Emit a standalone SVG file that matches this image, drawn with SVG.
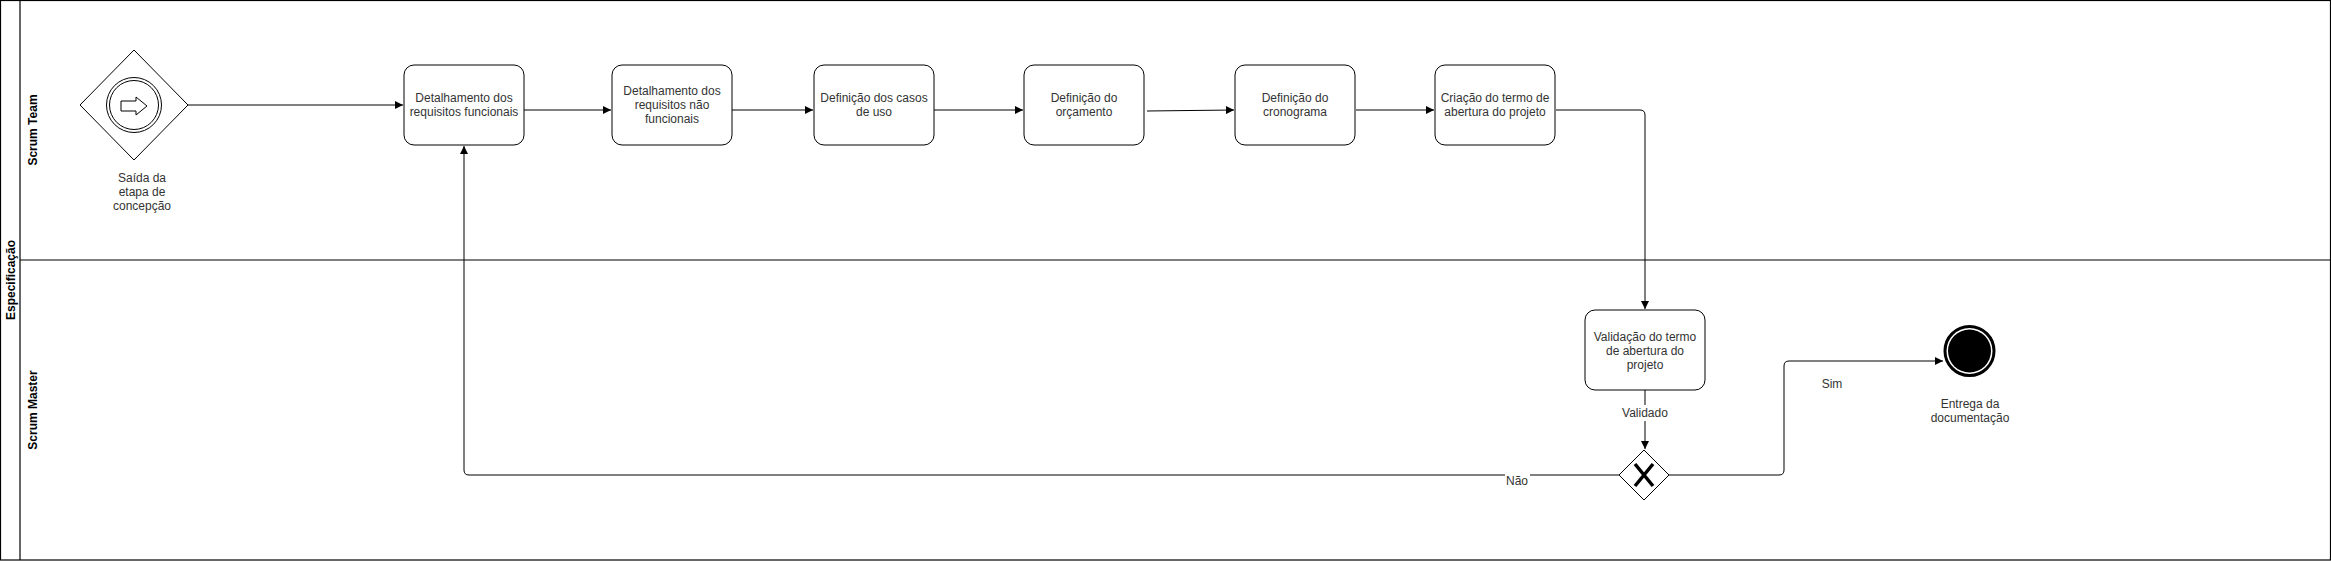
<svg xmlns="http://www.w3.org/2000/svg" width="2331" height="561" viewBox="0 0 2331 561">
<style>
text{font-family:"Liberation Sans",Arial,sans-serif;font-size:12px;fill:#333;}
.title{font-weight:bold;fill:#000;}
.task{fill:#fff;stroke:#000;stroke-width:1;}
.edge{fill:none;stroke:#000;stroke-width:1;}
.lane{fill:none;stroke:#000;stroke-width:1.2;}
</style>
<defs>
<marker id="arr" viewBox="0 0 10 10" refX="10" refY="5" markerWidth="9" markerHeight="8" markerUnits="userSpaceOnUse" orient="auto">
<path d="M0,0 L10,5 L0,10 z" fill="#000"/>
</marker>
</defs>
<rect width="2331" height="561" fill="#fff"/>
<g id="pool">
<rect class="lane" x="0.5" y="0.5" width="2330" height="559.5"/>
<line class="lane" x1="20" y1="0.5" x2="20" y2="560"/>
<line class="lane" x1="20" y1="260" x2="2331" y2="260"/>
<text class="title" transform="translate(15,280) rotate(-90)" text-anchor="middle">Especificação</text>
<text class="title" transform="translate(37,130) rotate(-90)" text-anchor="middle">Scrum Team</text>
<text class="title" transform="translate(37,410) rotate(-90)" text-anchor="middle">Scrum Master</text>
</g>
<g id="edges">
<path class="edge" d="M188,105 H403" marker-end="url(#arr)"/>
<path class="edge" d="M524,110 H611" marker-end="url(#arr)"/>
<path class="edge" d="M732,110 H813" marker-end="url(#arr)"/>
<path class="edge" d="M934,110 H1023" marker-end="url(#arr)"/>
<path class="edge" d="M1147,111 L1234,110" marker-end="url(#arr)"/>
<path class="edge" d="M1356,110 H1434" marker-end="url(#arr)"/>
<path class="edge" d="M1556,110 H1640 Q1645,110 1645,115 V309" marker-end="url(#arr)"/>
<path class="edge" d="M1645,390 V449" marker-end="url(#arr)"/>
<path class="edge" d="M1619,475 H469 Q464,475 464,470 V146" marker-end="url(#arr)"/>
<path class="edge" d="M1669,475 H1779 Q1784,475 1784,470 V366 Q1784,361 1789,361 H1943" marker-end="url(#arr)"/>
<rect x="1622" y="405" width="46" height="16" fill="#fff"/>
<text x="1645" y="417" text-anchor="middle">Validado</text>
<rect x="1505" y="472" width="25" height="16" fill="#fff"/>
<text x="1517" y="485" text-anchor="middle">Não</text>
<text x="1832" y="388" text-anchor="middle">Sim</text>
</g>
<g id="start">
<polygon points="80,105 134,50 188,105 134,160" fill="#fff" stroke="#000"/>
<circle cx="134" cy="105" r="27.5" fill="#fff" stroke="#000"/>
<circle cx="134" cy="105" r="24.5" fill="none" stroke="#000"/>
<path d="M121,101 H136 V97 L147,106 L136,115 V111 H121 Z" fill="#fff" stroke="#000"/>
<text x="142" y="182" text-anchor="middle">Saída da</text>
<text x="142" y="196" text-anchor="middle">etapa de</text>
<text x="142" y="210" text-anchor="middle">concepção</text>
</g>
<g id="task1">
<rect class="task" x="404" y="65" width="120" height="80" rx="10"/>
<text x="464" y="102" text-anchor="middle">Detalhamento dos</text>
<text x="464" y="116" text-anchor="middle">requisitos funcionais</text>
</g>
<g id="task2">
<rect class="task" x="612" y="65" width="120" height="80" rx="10"/>
<text x="672" y="95" text-anchor="middle">Detalhamento dos</text>
<text x="672" y="109" text-anchor="middle">requisitos não</text>
<text x="672" y="123" text-anchor="middle">funcionais</text>
</g>
<g id="task3">
<rect class="task" x="814" y="65" width="120" height="80" rx="10"/>
<text x="874" y="102" text-anchor="middle">Definição dos casos</text>
<text x="874" y="116" text-anchor="middle">de uso</text>
</g>
<g id="task4">
<rect class="task" x="1024" y="65" width="120" height="80" rx="10"/>
<text x="1084" y="102" text-anchor="middle">Definição do</text>
<text x="1084" y="116" text-anchor="middle">orçamento</text>
</g>
<g id="task5">
<rect class="task" x="1235" y="65" width="120" height="80" rx="10"/>
<text x="1295" y="102" text-anchor="middle">Definição do</text>
<text x="1295" y="116" text-anchor="middle">cronograma</text>
</g>
<g id="task6">
<rect class="task" x="1435" y="65" width="120" height="80" rx="10"/>
<text x="1495" y="102" text-anchor="middle">Criação do termo de</text>
<text x="1495" y="116" text-anchor="middle">abertura do projeto</text>
</g>
<g id="task7">
<rect class="task" x="1585" y="310" width="120" height="80" rx="10"/>
<text x="1645" y="341" text-anchor="middle">Validação do termo</text>
<text x="1645" y="355" text-anchor="middle">de abertura do</text>
<text x="1645" y="369" text-anchor="middle">projeto</text>
</g>
<g id="gateway">
<polygon points="1619,475 1644,450 1669,475 1644,500" fill="#fff" stroke="#000"/>
<path d="M1635,464 L1653,486 M1653,464 L1635,486" stroke="#000" stroke-width="3.5" fill="none"/>
</g>
<g id="end">
<circle cx="1969.5" cy="351" r="24.5" fill="#fff" stroke="#000" stroke-width="3"/>
<circle cx="1969.5" cy="351" r="21.5" fill="#000"/>
<text x="1970" y="408" text-anchor="middle">Entrega da</text>
<text x="1970" y="422" text-anchor="middle">documentação</text>
</g>
</svg>
